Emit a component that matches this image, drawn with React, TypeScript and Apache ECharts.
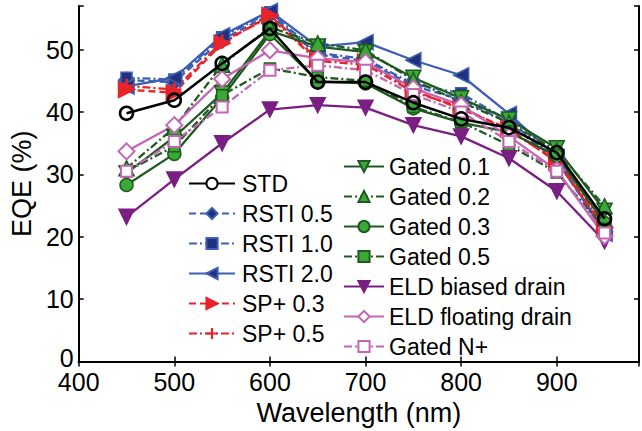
import React, { useEffect, useRef } from "react";
import * as echarts from "echarts";

const wavelengths = [450, 500, 550, 600, 650, 700, 750, 800, 850, 900, 950];

const std = [39.8, 41.9, 47.8, 53.4, 44.8, 44.8, 41.5, 38.9, 37.5, 33.5, 22.9];
const rsti05 = [45.1, 44.8, 51.6, 55.6, 49.2, 48.2, 44.2, 42.0, 38.3, 32.2, 20.8];
const rsti10 = [45.5, 45.2, 52.0, 56.0, 49.5, 48.5, 44.5, 43.0, 38.6, 32.5, 21.0];
const rsti20 = [44.1, 45.5, 52.3, 56.2, 50.5, 51.2, 48.3, 45.9, 39.7, 32.8, 20.5];
const sp03 = [43.6, 43.1, 51.0, 55.5, 48.5, 48.0, 43.5, 40.5, 37.3, 32.0, 21.5];
const sp05 = [44.2, 43.6, 51.3, 55.2, 48.2, 47.6, 43.2, 40.8, 37.0, 32.3, 21.8];
const gated01 = [30.2, 36.0, 43.0, 53.0, 50.5, 49.6, 45.5, 42.2, 38.8, 34.2, 24.2];
const gated02 = [31.0, 37.5, 47.6, 53.6, 51.0, 49.9, 45.1, 41.6, 38.3, 33.8, 24.9];
const gated03 = [28.3, 33.3, 42.3, 52.5, 44.9, 44.6, 40.6, 38.3, 36.8, 33.0, 22.2];
const gated05 = [30.5, 34.5, 42.7, 47.0, 45.6, 45.0, 40.8, 38.4, 34.7, 30.3, 21.3];
const eldBiased = [23.2, 29.2, 35.0, 40.4, 41.1, 40.7, 37.9, 36.1, 32.6, 27.3, 19.3];
const eldFloating = [33.7, 37.9, 45.3, 49.9, 48.6, 48.0, 43.8, 41.1, 36.1, 30.7, 20.1];
const gatedNp = [30.5, 35.3, 40.8, 46.7, 47.5, 46.7, 42.8, 40.0, 35.3, 30.5, 20.6];

const xTicks = [400, 500, 600, 700, 800, 900];
const yTicks = [0, 10, 20, 30, 40, 50];

const leftLegend = ["STD", "RSTI 0.5", "RSTI 1.0", "RSTI 2.0", "SP+ 0.3", "SP+ 0.5"];
const rightLegend = ["Gated 0.1", "Gated 0.2", "Gated 0.3", "Gated 0.5", "ELD biased drain", "ELD floating drain", "Gated N+"];

const FONT = "'Liberation Sans', Arial, Helvetica, sans-serif";
const BLUE = "#3d5fb3";
const NAVY = "#22317e";
const RED = "#e8232a";
const DGREEN = "#1f5a21";
const LGREEN = "#3aa935";
const PURPLE = "#7b1e83";
const ORCHID = "#c466b4";
const DASH = [7, 4];
const DASHDOT = [8, 3, 2, 3];
const PLUS = "path://M4,0H6V4H10V6H6V10H4V6H0V4H4Z";

function mk(name: string, values: number[], o: any) {
  return {
    name,
    type: "line",
    data: wavelengths.map((w, i) => [w, values[i]]),
    symbol: o.symbol,
    symbolSize: o.size,
    symbolRotate: o.rotate || 0,
    showAllSymbol: true,
    lineStyle: { color: o.line, width: o.width || 2.3, type: o.type || "solid" },
    itemStyle: { color: o.fill, borderColor: o.edge, borderWidth: o.bw ?? 1.5 },
    emphasis: { disabled: true },
    z: o.z || 2,
  };
}

export default function App() {
  const ref = useRef<HTMLDivElement>(null);
  useEffect(() => {
    if (!ref.current) return;
    const chart = echarts.init(ref.current, undefined, { renderer: "svg" });
    const series = [
      mk("RSTI 0.5", rsti05, { symbol: "diamond", size: 16, line: BLUE, fill: NAVY, edge: BLUE, type: DASH }),
      mk("RSTI 1.0", rsti10, { symbol: "rect", size: 11, line: BLUE, fill: NAVY, edge: BLUE, type: DASHDOT }),
      mk("RSTI 2.0", rsti20, { symbol: "triangle", rotate: 90, size: 15, line: BLUE, fill: NAVY, edge: BLUE }),
      mk("SP+ 0.3", sp03, { symbol: "triangle", rotate: -90, size: 16, line: RED, fill: RED, edge: RED, type: DASH }),
      mk("SP+ 0.5", sp05, { symbol: PLUS, size: 14, line: RED, fill: RED, edge: RED, bw: 0, type: DASHDOT }),
      mk("Gated 0.1", gated01, { symbol: "triangle", rotate: 180, size: 15, line: DGREEN, fill: LGREEN, edge: DGREEN }),
      mk("Gated 0.2", gated02, { symbol: "triangle", size: 15, line: DGREEN, fill: LGREEN, edge: DGREEN, type: DASHDOT }),
      mk("Gated 0.3", gated03, { symbol: "circle", size: 13, line: DGREEN, fill: LGREEN, edge: DGREEN }),
      mk("Gated 0.5", gated05, { symbol: "rect", size: 11, line: DGREEN, fill: LGREEN, edge: DGREEN, type: DASHDOT }),
      mk("ELD biased drain", eldBiased, { symbol: "triangle", rotate: 180, size: 15, line: PURPLE, fill: PURPLE, edge: PURPLE }),
      mk("ELD floating drain", eldFloating, { symbol: "diamond", size: 16, line: ORCHID, fill: "#ffffff", edge: ORCHID, bw: 2 }),
      mk("Gated N+", gatedNp, { symbol: "rect", size: 11, line: ORCHID, fill: "#ffffff", edge: ORCHID, bw: 2, type: DASHDOT }),
      mk("STD", std, { symbol: "circle", size: 13, line: "#000000", fill: "rgba(255,255,255,0)", edge: "#000000", bw: 2.5, width: 2.5, z: 3 }),
    ];
    const legendCommon = {
      orient: "vertical",
      padding: 0,
      itemWidth: 44,
      itemHeight: 14,
      itemGap: 7,
      selectedMode: false,
      textStyle: { fontFamily: FONT, fontSize: 23, color: "#000" },
    };
    const axisCommon = {
      axisLine: { show: true, lineStyle: { color: "#000", width: 2 } },
      axisTick: { show: true, inside: true, length: 5, lineStyle: { color: "#000", width: 1.5 } },
      splitLine: { show: false },
    };
    chart.setOption({
      animation: false,
      backgroundColor: "#ffffff",
      grid: { left: 77, right: 1, top: 6, bottom: 68, containLabel: false },
      legend: [
        {
          ...legendCommon,
          itemWidth: 46,
          left: 188,
          top: 172,
          textStyle: { ...legendCommon.textStyle, padding: [0, 0, 0, 2] },
          data: leftLegend.map((n) => (n === "STD" ? { name: n, itemStyle: { color: "#ffffff" } } : n)),
        },
        { ...legendCommon, itemWidth: 40, left: 343, top: 155, data: rightLegend },
      ],
      xAxis: [
        {
          ...axisCommon,
          type: "value",
          min: 400,
          max: 986,
          interval: 100,
          name: "Wavelength (nm)",
          nameLocation: "middle",
          nameGap: 31,
          nameTextStyle: { fontFamily: FONT, fontSize: 27, color: "#000" },
          axisLabel: {
            fontFamily: FONT,
            fontSize: 25,
            color: "#000",
            margin: 9,
            lineHeight: 22,
            formatter: (v: number) => (xTicks.includes(v) ? String(v) : ""),
          },
        },
        {
          ...axisCommon,
          type: "value",
          position: "top",
          min: 400,
          max: 986,
          interval: 100,
          axisLabel: { show: false },
        },
      ],
      yAxis: [
        {
          ...axisCommon,
          type: "value",
          min: 0,
          max: 57,
          interval: 10,
          name: "EQE (%)",
          nameLocation: "middle",
          nameGap: 42,
          nameTextStyle: { fontFamily: FONT, fontSize: 27, color: "#000" },
          axisLabel: {
            fontFamily: FONT,
            fontSize: 25,
            color: "#000",
            margin: 5,
            lineHeight: 20,
            formatter: (v: number) => (yTicks.includes(v) ? (v === 0 ? "{z|0}" : String(v)) : ""),
            rich: { z: { fontFamily: FONT, fontSize: 25, color: "#000", lineHeight: 20, padding: [0, 0, 8, 0] } },
          },
        },
        {
          ...axisCommon,
          type: "value",
          position: "right",
          min: 0,
          max: 57,
          interval: 10,
          axisLabel: { show: false },
        },
      ],
      series,
    });
    return () => chart.dispose();
  }, []);
  return <div ref={ref} style={{ position: "absolute", left: 0, top: 0, width: 642, height: 431 }} />;
}
